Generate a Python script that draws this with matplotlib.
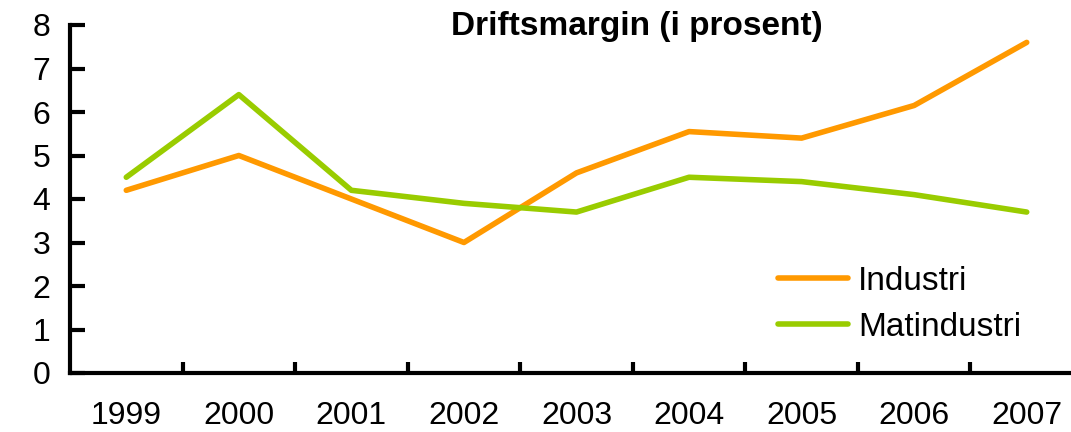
import matplotlib
matplotlib.use("Agg")
import matplotlib.pyplot as plt

# ---------- Data ----------
years = ["1999", "2000", "2001", "2002", "2003", "2004", "2005", "2006", "2007"]
industri = [4.2, 5.0, 4.0, 3.0, 4.6, 5.55, 5.4, 6.15, 7.6]
matindustri = [4.5, 6.4, 4.2, 3.9, 3.7, 4.5, 4.4, 4.1, 3.7]

ORANGE = "#FF9900"
GREEN = "#99CC00"

plt.rcParams["font.family"] = ["Liberation Sans", "DejaVu Sans"]

fig = plt.figure(figsize=(10.71, 4.32), dpi=100)
W, H = 1071, 432
ax = fig.add_axes([70 / W, (H - 373) / H, (1083 - 70) / W, (373 - 25) / H])

x = list(range(len(years)))
ax.plot(x, industri, color=ORANGE, lw=4, label="Industri", solid_capstyle="round")
ax.plot(x, matindustri, color=GREEN, lw=4, label="Matindustri", solid_capstyle="round")

ax.set_xlim(-0.5, len(years) - 0.5)
ax.set_ylim(0, 8)
ax.set_yticks(range(0, 9))
ax.set_xticks(x)
ax.set_xticklabels(years)
ax.set_xticks([i + 0.5 for i in range(len(years) - 1)], minor=True)

for s in ["top", "right"]:
    ax.spines[s].set_visible(False)
for s in ["left", "bottom"]:
    ax.spines[s].set_linewidth(3)

ax.tick_params(axis="y", direction="in", length=11, width=3, labelsize=23, pad=14)
ax.tick_params(axis="x", which="major", length=0, labelsize=23, pad=20)
ax.tick_params(axis="x", which="minor", direction="in", length=8, width=3)

fig.text(637 / W, 1 - 27 / H, "Driftsmargin (i prosent)", ha="center", va="center",
         fontsize=24, fontweight="bold")

fig.legend(loc="center left", bbox_to_anchor=(748 / W, 1 - 304 / H), frameon=False,
           fontsize=24, handlelength=2.1, handletextpad=0.3, labelspacing=0.45)

fig.savefig("out.png", dpi=100)
